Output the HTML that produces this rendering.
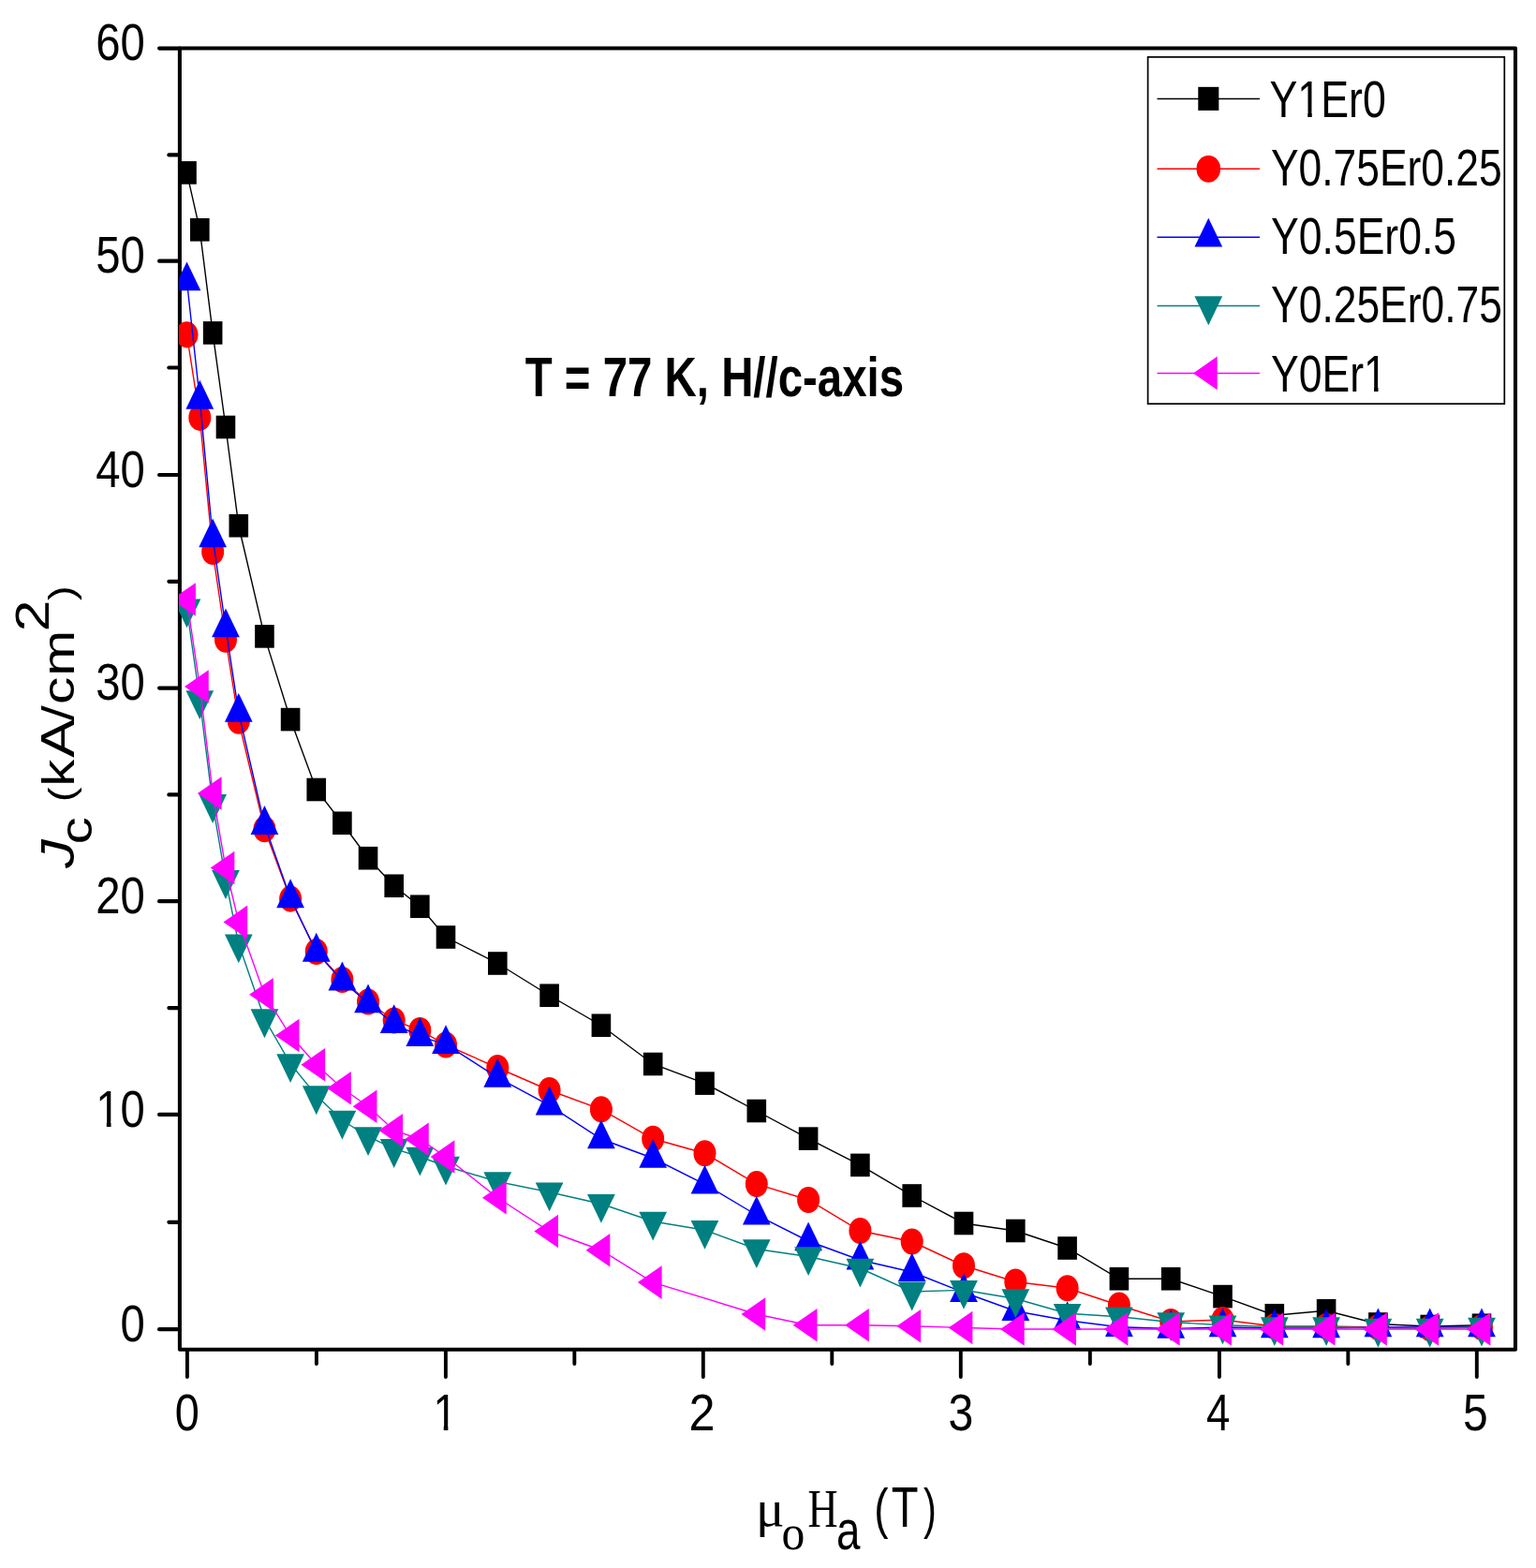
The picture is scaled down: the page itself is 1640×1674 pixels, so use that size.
<!DOCTYPE html>
<html lang="en"><head><meta charset="utf-8"><title>Jc vs applied field</title>
<style>html,body{margin:0;padding:0;background:#fff}body{width:1640px;height:1674px;overflow:hidden}svg{display:block}text{font-family:"Liberation Sans",sans-serif;fill:#000}.ser{font-family:"Liberation Serif",serif}</style>
</head><body>
<svg width="1640" height="1674" viewBox="0 0 1640 1674">
<rect width="1640" height="1674" fill="#fff"/>
<defs><clipPath id="plot"><rect x="191" y="51.5" width="1427" height="1389.3"/></clipPath><clipPath id="one"><path d="M0 -80H34.05V2H25V-9.6H0Z"/></clipPath></defs>
<g stroke="#000" fill="none">
<path d="M191.9 51.5H1618V1440.8H191.9Z" stroke-width="4.05" stroke-linejoin="round"/>
<line x1="170.1" y1="51.6" x2="191.5" y2="51.6" stroke-width="4.2" stroke-linecap="round"/>
<line x1="180.4" y1="165.4" x2="191.5" y2="165.4" stroke-width="4.2" stroke-linecap="round"/>
<line x1="170.1" y1="278.7" x2="191.5" y2="278.7" stroke-width="4.2" stroke-linecap="round"/>
<line x1="180.4" y1="392.5" x2="191.5" y2="392.5" stroke-width="4.2" stroke-linecap="round"/>
<line x1="170.1" y1="507" x2="191.5" y2="507" stroke-width="4.2" stroke-linecap="round"/>
<line x1="180.4" y1="620.8" x2="191.5" y2="620.8" stroke-width="4.2" stroke-linecap="round"/>
<line x1="170.1" y1="734.6" x2="191.5" y2="734.6" stroke-width="4.2" stroke-linecap="round"/>
<line x1="180.4" y1="848.4" x2="191.5" y2="848.4" stroke-width="4.2" stroke-linecap="round"/>
<line x1="170.1" y1="962.2" x2="191.5" y2="962.2" stroke-width="4.2" stroke-linecap="round"/>
<line x1="180.4" y1="1076.1" x2="191.5" y2="1076.1" stroke-width="4.2" stroke-linecap="round"/>
<line x1="170.1" y1="1189.9" x2="191.5" y2="1189.9" stroke-width="4.2" stroke-linecap="round"/>
<line x1="180.4" y1="1304.8" x2="191.5" y2="1304.8" stroke-width="4.2" stroke-linecap="round"/>
<line x1="170.1" y1="1419.2" x2="191.5" y2="1419.2" stroke-width="4.2" stroke-linecap="round"/>
<line x1="199.9" y1="1441.2" x2="199.9" y2="1470" stroke-width="3.9" stroke-linecap="round"/>
<line x1="475.9" y1="1441.2" x2="475.9" y2="1470" stroke-width="3.9" stroke-linecap="round"/>
<line x1="750.8" y1="1441.2" x2="750.8" y2="1470" stroke-width="3.9" stroke-linecap="round"/>
<line x1="1025.8" y1="1441.2" x2="1025.8" y2="1470" stroke-width="3.9" stroke-linecap="round"/>
<line x1="1301.9" y1="1441.2" x2="1301.9" y2="1470" stroke-width="3.9" stroke-linecap="round"/>
<line x1="1576.8" y1="1441.2" x2="1576.8" y2="1470" stroke-width="3.9" stroke-linecap="round"/>
<line x1="337.9" y1="1441.2" x2="337.9" y2="1456" stroke-width="3.9" stroke-linecap="round"/>
<line x1="613.35" y1="1441.2" x2="613.35" y2="1456" stroke-width="3.9" stroke-linecap="round"/>
<line x1="888.3" y1="1441.2" x2="888.3" y2="1456" stroke-width="3.9" stroke-linecap="round"/>
<line x1="1163.85" y1="1441.2" x2="1163.85" y2="1456" stroke-width="3.9" stroke-linecap="round"/>
<line x1="1439.35" y1="1441.2" x2="1439.35" y2="1456" stroke-width="3.9" stroke-linecap="round"/>
</g>
<g clip-path="url(#plot)">
<polyline fill="none" stroke="#000000" stroke-width="1.4" points="199.5,184.4 213.32,245.3 227.15,355.4 240.97,456 254.8,561.25 282.45,679.4 310.1,768.1 337.75,843 365.4,878.75 393.05,916.2 420.7,945.75 448.35,967.75 476,1000.5 531.3,1028.5 586.6,1062.75 641.9,1094.75 697.2,1136 752.5,1156.6 807.8,1186 863.1,1215.6 918.4,1243.9 973.7,1276.5 1029,1306 1084.3,1314 1139.6,1332.5 1194.9,1365.25 1250.2,1365.25 1305.5,1384.1 1360.8,1404.25 1416.1,1399.25 1471.4,1413.5 1526.7,1416 1582,1414.75"/>
<g fill="#000000"><rect x="189.2" y="172.1" width="20.6" height="24.6"/><rect x="203.02" y="233" width="20.6" height="24.6"/><rect x="216.85" y="343.1" width="20.6" height="24.6"/><rect x="230.67" y="443.7" width="20.6" height="24.6"/><rect x="244.5" y="548.95" width="20.6" height="24.6"/><rect x="272.15" y="667.1" width="20.6" height="24.6"/><rect x="299.8" y="755.8" width="20.6" height="24.6"/><rect x="327.45" y="830.7" width="20.6" height="24.6"/><rect x="355.1" y="866.45" width="20.6" height="24.6"/><rect x="382.75" y="903.9" width="20.6" height="24.6"/><rect x="410.4" y="933.45" width="20.6" height="24.6"/><rect x="438.05" y="955.45" width="20.6" height="24.6"/><rect x="465.7" y="988.2" width="20.6" height="24.6"/><rect x="521" y="1016.2" width="20.6" height="24.6"/><rect x="576.3" y="1050.45" width="20.6" height="24.6"/><rect x="631.6" y="1082.45" width="20.6" height="24.6"/><rect x="686.9" y="1123.7" width="20.6" height="24.6"/><rect x="742.2" y="1144.3" width="20.6" height="24.6"/><rect x="797.5" y="1173.7" width="20.6" height="24.6"/><rect x="852.8" y="1203.3" width="20.6" height="24.6"/><rect x="908.1" y="1231.6" width="20.6" height="24.6"/><rect x="963.4" y="1264.2" width="20.6" height="24.6"/><rect x="1018.7" y="1293.7" width="20.6" height="24.6"/><rect x="1074" y="1301.7" width="20.6" height="24.6"/><rect x="1129.3" y="1320.2" width="20.6" height="24.6"/><rect x="1184.6" y="1352.95" width="20.6" height="24.6"/><rect x="1239.9" y="1352.95" width="20.6" height="24.6"/><rect x="1295.2" y="1371.8" width="20.6" height="24.6"/><rect x="1350.5" y="1391.95" width="20.6" height="24.6"/><rect x="1405.8" y="1386.95" width="20.6" height="24.6"/><rect x="1461.1" y="1401.2" width="20.6" height="24.6"/><rect x="1516.4" y="1403.7" width="20.6" height="24.6"/><rect x="1571.7" y="1402.45" width="20.6" height="24.6"/></g>
<polyline fill="none" stroke="#ff0000" stroke-width="1.4" points="199.5,357.3 213.32,445.8 227.15,589 240.97,682.75 254.8,769.75 282.45,885.25 310.1,959.6 337.75,1016 365.4,1046 393.05,1069.5 420.7,1089.5 448.35,1100 476,1115.5 531.3,1140 586.6,1164 641.9,1184.4 697.2,1215.75 752.5,1231.25 807.8,1264.1 863.1,1281 918.4,1314 973.7,1325.5 1029,1351.25 1084.3,1368.5 1139.6,1375.25 1194.9,1393.5 1250.2,1411 1305.5,1409 1360.8,1416 1416.1,1416 1471.4,1417 1526.7,1418 1582,1417"/>
<g fill="#ff0000"><ellipse cx="199.5" cy="357.3" rx="12" ry="14.1"/><ellipse cx="213.32" cy="445.8" rx="12" ry="14.1"/><ellipse cx="227.15" cy="589" rx="12" ry="14.1"/><ellipse cx="240.97" cy="682.75" rx="12" ry="14.1"/><ellipse cx="254.8" cy="769.75" rx="12" ry="14.1"/><ellipse cx="282.45" cy="885.25" rx="12" ry="14.1"/><ellipse cx="310.1" cy="959.6" rx="12" ry="14.1"/><ellipse cx="337.75" cy="1016" rx="12" ry="14.1"/><ellipse cx="365.4" cy="1046" rx="12" ry="14.1"/><ellipse cx="393.05" cy="1069.5" rx="12" ry="14.1"/><ellipse cx="420.7" cy="1089.5" rx="12" ry="14.1"/><ellipse cx="448.35" cy="1100" rx="12" ry="14.1"/><ellipse cx="476" cy="1115.5" rx="12" ry="14.1"/><ellipse cx="531.3" cy="1140" rx="12" ry="14.1"/><ellipse cx="586.6" cy="1164" rx="12" ry="14.1"/><ellipse cx="641.9" cy="1184.4" rx="12" ry="14.1"/><ellipse cx="697.2" cy="1215.75" rx="12" ry="14.1"/><ellipse cx="752.5" cy="1231.25" rx="12" ry="14.1"/><ellipse cx="807.8" cy="1264.1" rx="12" ry="14.1"/><ellipse cx="863.1" cy="1281" rx="12" ry="14.1"/><ellipse cx="918.4" cy="1314" rx="12" ry="14.1"/><ellipse cx="973.7" cy="1325.5" rx="12" ry="14.1"/><ellipse cx="1029" cy="1351.25" rx="12" ry="14.1"/><ellipse cx="1084.3" cy="1368.5" rx="12" ry="14.1"/><ellipse cx="1139.6" cy="1375.25" rx="12" ry="14.1"/><ellipse cx="1194.9" cy="1393.5" rx="12" ry="14.1"/><ellipse cx="1250.2" cy="1411" rx="12" ry="14.1"/><ellipse cx="1305.5" cy="1409" rx="12" ry="14.1"/><ellipse cx="1360.8" cy="1416" rx="12" ry="14.1"/><ellipse cx="1416.1" cy="1416" rx="12" ry="14.1"/><ellipse cx="1471.4" cy="1417" rx="12" ry="14.1"/><ellipse cx="1526.7" cy="1418" rx="12" ry="14.1"/><ellipse cx="1582" cy="1417" rx="12" ry="14.1"/></g>
<polyline fill="none" stroke="#0000ff" stroke-width="1.4" points="199.5,300 213.32,426.4 227.15,574 240.97,670 254.8,760.5 282.45,880.6 310.1,958.9 337.75,1016.4 365.4,1047.2 393.05,1071 420.7,1092.8 448.35,1106.7 476,1114.8 531.3,1150.4 586.6,1180.1 641.9,1216 697.2,1236.5 752.5,1264.25 807.8,1297.25 863.1,1325 918.4,1345.25 973.7,1358 1029,1379.75 1084.3,1399.75 1139.6,1409.75 1194.9,1416.75 1250.2,1418.5 1305.5,1417 1360.8,1418 1416.1,1418 1471.4,1417 1526.7,1417 1582,1417"/>
<g fill="#0000ff"><polygon points="199.5,279.4 214.35,310.3 184.65,310.3"/><polygon points="213.32,405.8 228.17,436.7 198.47,436.7"/><polygon points="227.15,553.4 242,584.3 212.3,584.3"/><polygon points="240.97,649.4 255.82,680.3 226.12,680.3"/><polygon points="254.8,739.9 269.65,770.8 239.95,770.8"/><polygon points="282.45,860 297.3,890.9 267.6,890.9"/><polygon points="310.1,938.3 324.95,969.2 295.25,969.2"/><polygon points="337.75,995.8 352.6,1026.7 322.9,1026.7"/><polygon points="365.4,1026.6 380.25,1057.5 350.55,1057.5"/><polygon points="393.05,1050.4 407.9,1081.3 378.2,1081.3"/><polygon points="420.7,1072.2 435.55,1103.1 405.85,1103.1"/><polygon points="448.35,1086.1 463.2,1117 433.5,1117"/><polygon points="476,1094.2 490.85,1125.1 461.15,1125.1"/><polygon points="531.3,1129.8 546.15,1160.7 516.45,1160.7"/><polygon points="586.6,1159.5 601.45,1190.4 571.75,1190.4"/><polygon points="641.9,1195.4 656.75,1226.3 627.05,1226.3"/><polygon points="697.2,1215.9 712.05,1246.8 682.35,1246.8"/><polygon points="752.5,1243.65 767.35,1274.55 737.65,1274.55"/><polygon points="807.8,1276.65 822.65,1307.55 792.95,1307.55"/><polygon points="863.1,1304.4 877.95,1335.3 848.25,1335.3"/><polygon points="918.4,1324.65 933.25,1355.55 903.55,1355.55"/><polygon points="973.7,1337.4 988.55,1368.3 958.85,1368.3"/><polygon points="1029,1359.15 1043.85,1390.05 1014.15,1390.05"/><polygon points="1084.3,1379.15 1099.15,1410.05 1069.45,1410.05"/><polygon points="1139.6,1389.15 1154.45,1420.05 1124.75,1420.05"/><polygon points="1194.9,1396.15 1209.75,1427.05 1180.05,1427.05"/><polygon points="1250.2,1397.9 1265.05,1428.8 1235.35,1428.8"/><polygon points="1305.5,1396.4 1320.35,1427.3 1290.65,1427.3"/><polygon points="1360.8,1397.4 1375.65,1428.3 1345.95,1428.3"/><polygon points="1416.1,1397.4 1430.95,1428.3 1401.25,1428.3"/><polygon points="1471.4,1396.4 1486.25,1427.3 1456.55,1427.3"/><polygon points="1526.7,1396.4 1541.55,1427.3 1511.85,1427.3"/><polygon points="1582,1396.4 1596.85,1427.3 1567.15,1427.3"/></g>
<polyline fill="none" stroke="#008080" stroke-width="1.4" points="199.5,649.7 213.32,747.5 227.15,858.4 240.97,939.3 254.8,1007.7 282.45,1087.6 310.1,1135.5 337.75,1169.6 365.4,1196 393.05,1213.5 420.7,1226.3 448.35,1235 476,1245 531.3,1261.5 586.6,1272.75 641.9,1285.25 697.2,1304 752.5,1313.25 807.8,1333.5 863.1,1341.5 918.4,1354 973.7,1379 1029,1377.25 1084.3,1386.5 1139.6,1402.25 1194.9,1405.75 1250.2,1411.5 1305.5,1414.75 1360.8,1416.5 1416.1,1416.5 1471.4,1418 1526.7,1418 1582,1417"/>
<g fill="#008080"><polygon points="199.5,670.3 214.35,639.4 184.65,639.4"/><polygon points="213.32,768.1 228.17,737.2 198.47,737.2"/><polygon points="227.15,879 242,848.1 212.3,848.1"/><polygon points="240.97,959.9 255.82,929 226.12,929"/><polygon points="254.8,1028.3 269.65,997.4 239.95,997.4"/><polygon points="282.45,1108.2 297.3,1077.3 267.6,1077.3"/><polygon points="310.1,1156.1 324.95,1125.2 295.25,1125.2"/><polygon points="337.75,1190.2 352.6,1159.3 322.9,1159.3"/><polygon points="365.4,1216.6 380.25,1185.7 350.55,1185.7"/><polygon points="393.05,1234.1 407.9,1203.2 378.2,1203.2"/><polygon points="420.7,1246.9 435.55,1216 405.85,1216"/><polygon points="448.35,1255.6 463.2,1224.7 433.5,1224.7"/><polygon points="476,1265.6 490.85,1234.7 461.15,1234.7"/><polygon points="531.3,1282.1 546.15,1251.2 516.45,1251.2"/><polygon points="586.6,1293.35 601.45,1262.45 571.75,1262.45"/><polygon points="641.9,1305.85 656.75,1274.95 627.05,1274.95"/><polygon points="697.2,1324.6 712.05,1293.7 682.35,1293.7"/><polygon points="752.5,1333.85 767.35,1302.95 737.65,1302.95"/><polygon points="807.8,1354.1 822.65,1323.2 792.95,1323.2"/><polygon points="863.1,1362.1 877.95,1331.2 848.25,1331.2"/><polygon points="918.4,1374.6 933.25,1343.7 903.55,1343.7"/><polygon points="973.7,1399.6 988.55,1368.7 958.85,1368.7"/><polygon points="1029,1397.85 1043.85,1366.95 1014.15,1366.95"/><polygon points="1084.3,1407.1 1099.15,1376.2 1069.45,1376.2"/><polygon points="1139.6,1422.85 1154.45,1391.95 1124.75,1391.95"/><polygon points="1194.9,1426.35 1209.75,1395.45 1180.05,1395.45"/><polygon points="1250.2,1432.1 1265.05,1401.2 1235.35,1401.2"/><polygon points="1305.5,1435.35 1320.35,1404.45 1290.65,1404.45"/><polygon points="1360.8,1437.1 1375.65,1406.2 1345.95,1406.2"/><polygon points="1416.1,1437.1 1430.95,1406.2 1401.25,1406.2"/><polygon points="1471.4,1438.6 1486.25,1407.7 1456.55,1407.7"/><polygon points="1526.7,1438.6 1541.55,1407.7 1511.85,1407.7"/><polygon points="1582,1437.6 1596.85,1406.7 1567.15,1406.7"/></g>
<polyline fill="none" stroke="#ff00ff" stroke-width="1.4" points="199.5,640 213.32,733 227.15,847 240.97,926.5 254.8,984.4 282.45,1061.75 310.1,1105.5 337.75,1136.75 365.4,1161.75 393.05,1181.25 420.7,1206.75 448.35,1216.25 476,1235 531.3,1278.75 586.6,1314.5 641.9,1334.75 697.2,1369.1 807.8,1403 863.1,1414.75 918.4,1414.75 973.7,1415.75 1029,1417.5 1084.3,1419 1139.6,1419 1194.9,1419 1250.2,1419 1305.5,1419 1360.8,1419 1416.1,1419 1471.4,1419 1526.7,1419 1582,1419"/>
<g fill="#ff00ff"><polygon points="183.2,640 208.9,622.2 208.9,657.8"/><polygon points="197.02,733 222.72,715.2 222.72,750.8"/><polygon points="210.85,847 236.55,829.2 236.55,864.8"/><polygon points="224.67,926.5 250.38,908.7 250.38,944.3"/><polygon points="238.5,984.4 264.2,966.6 264.2,1002.2"/><polygon points="266.15,1061.75 291.85,1043.95 291.85,1079.55"/><polygon points="293.8,1105.5 319.5,1087.7 319.5,1123.3"/><polygon points="321.45,1136.75 347.15,1118.95 347.15,1154.55"/><polygon points="349.1,1161.75 374.8,1143.95 374.8,1179.55"/><polygon points="376.75,1181.25 402.45,1163.45 402.45,1199.05"/><polygon points="404.4,1206.75 430.1,1188.95 430.1,1224.55"/><polygon points="432.05,1216.25 457.75,1198.45 457.75,1234.05"/><polygon points="459.7,1235 485.4,1217.2 485.4,1252.8"/><polygon points="515,1278.75 540.7,1260.95 540.7,1296.55"/><polygon points="570.3,1314.5 596,1296.7 596,1332.3"/><polygon points="625.6,1334.75 651.3,1316.95 651.3,1352.55"/><polygon points="680.9,1369.1 706.6,1351.3 706.6,1386.9"/><polygon points="791.5,1403 817.2,1385.2 817.2,1420.8"/><polygon points="846.8,1414.75 872.5,1396.95 872.5,1432.55"/><polygon points="902.1,1414.75 927.8,1396.95 927.8,1432.55"/><polygon points="957.4,1415.75 983.1,1397.95 983.1,1433.55"/><polygon points="1012.7,1417.5 1038.4,1399.7 1038.4,1435.3"/><polygon points="1068,1419 1093.7,1401.2 1093.7,1436.8"/><polygon points="1123.3,1419 1149,1401.2 1149,1436.8"/><polygon points="1178.6,1419 1204.3,1401.2 1204.3,1436.8"/><polygon points="1233.9,1419 1259.6,1401.2 1259.6,1436.8"/><polygon points="1289.2,1419 1314.9,1401.2 1314.9,1436.8"/><polygon points="1344.5,1419 1370.2,1401.2 1370.2,1436.8"/><polygon points="1399.8,1419 1425.5,1401.2 1425.5,1436.8"/><polygon points="1455.1,1419 1480.8,1401.2 1480.8,1436.8"/><polygon points="1510.4,1419 1536.1,1401.2 1536.1,1436.8"/><polygon points="1565.7,1419 1591.4,1401.2 1591.4,1436.8"/></g>
</g>
<text font-size="100" transform="matrix(0.4725 0 0 0.5572 102.22 64.39)">60</text>
<text font-size="100" transform="matrix(0.4725 0 0 0.5572 102.22 291.49)">50</text>
<text font-size="100" transform="matrix(0.4725 0 0 0.5572 102.22 519.79)">40</text>
<text font-size="100" transform="matrix(0.4725 0 0 0.5572 102.22 747.39)">30</text>
<text font-size="100" transform="matrix(0.4725 0 0 0.5572 102.22 974.99)">20</text>
<text font-size="100" transform="matrix(0.4724 0 0 0.5572 102.18 1202.69)">10</text><rect x="104.54" y="1197.01" width="9.27" height="6.88" fill="#fff"/><rect x="118.51" y="1197.01" width="8.7" height="6.88" fill="#fff"/>
<text font-size="100" transform="matrix(0.4725 0 0 0.5572 128.45 1431.99)">0</text>
<text font-size="100" transform="matrix(0.4691 0 0 0.5579 186.72 1527.14)">0</text>
<text font-size="100" transform="matrix(0.4621 0 0 0.5579 462.39 1527.14)">1</text><rect x="464.7" y="1521.45" width="9.06" height="6.89" fill="#fff"/><rect x="478.37" y="1521.45" width="8.51" height="6.89" fill="#fff"/>
<text font-size="100" transform="matrix(0.5033 0 0 0.5579 735.38 1527.14)">2</text>
<text font-size="100" transform="matrix(0.4821 0 0 0.5579 1012.39 1527.14)">3</text>
<text font-size="100" transform="matrix(0.4554 0 0 0.5579 1287.88 1527.14)">4</text>
<text font-size="100" transform="matrix(0.4800 0 0 0.5579 1561.88 1527.14)">5</text>
<rect x="1225.6" y="60.9" width="380.7" height="370.2" fill="#fff" stroke="#000" stroke-width="1.7"/>
<line x1="1235.5" y1="105.4" x2="1345" y2="105.4" stroke="#000000" stroke-width="1.5"/>
<g fill="#000000"><rect x="1279.28" y="92.84" width="22.04" height="25.12"/></g>
<text font-size="100" transform="matrix(0.4477 0 0 0.5579 1355.39 124.74)">Y1Er0</text><rect x="1387.49" y="119.05" width="8.77" height="6.89" fill="#fff"/><rect x="1400.75" y="119.05" width="8.23" height="6.89" fill="#fff"/>
<line x1="1235.5" y1="180.3" x2="1345" y2="180.3" stroke="#ff0000" stroke-width="1.5"/>
<g fill="#ff0000"><ellipse cx="1290.3" cy="180.3" rx="12.84" ry="14.4"/></g>
<text font-size="100" transform="matrix(0.4442 0 0 0.5579 1356.9 198.24)">Y0.75Er0.25</text>
<line x1="1235.5" y1="253.3" x2="1345" y2="253.3" stroke="#0000ff" stroke-width="1.5"/>
<g fill="#0000ff"><polygon points="1290.3,232.7 1305.15,263.6 1275.45,263.6"/></g>
<text font-size="100" transform="matrix(0.4453 0 0 0.5607 1357.1 271.44)">Y0.5Er0.5</text>
<line x1="1235.5" y1="326.6" x2="1345" y2="326.6" stroke="#008080" stroke-width="1.5"/>
<g fill="#008080"><polygon points="1290.3,347.2 1305.15,316.3 1275.45,316.3"/></g>
<text font-size="100" transform="matrix(0.4439 0 0 0.5565 1357.1 344.44)">Y0.25Er0.75</text>
<line x1="1235.5" y1="398.4" x2="1345" y2="398.4" stroke="#ff00ff" stroke-width="1.5"/>
<g fill="#ff00ff"><polygon points="1274,398.4 1299.7,380.6 1299.7,416.2"/></g>
<text font-size="100" transform="matrix(0.4454 0 0 0.5607 1357.1 417.94)">Y0Er1</text><rect x="1458.33" y="412.22" width="8.72" height="6.92" fill="#fff"/><rect x="1471.52" y="412.22" width="8.19" height="6.92" fill="#fff"/>
<text font-weight="bold" font-size="100" transform="matrix(0.4742 0 0 0.5945 560.63 422.8)">T = 77 K, H//c-axis</text>
<text font-size="100" transform="matrix(0 -0.5850 0.4850 0 0 0)"><tspan font-style="italic" x="-1584.37" y="162.46" font-size="104.64">J</tspan><tspan x="-1540.72" y="202.51" font-size="99.04">c</tspan><tspan x="-1486.28" y="162.38" font-size="80.93"> (</tspan><tspan x="-1435.43" y="162.47" font-size="99.25">k</tspan><tspan x="-1382.37" y="162.47" font-size="104.67">A</tspan><tspan x="-1315.23" y="162.51" font-size="99.31">/</tspan><tspan x="-1285.55" y="162.5" font-size="100.55">c</tspan><tspan x="-1233.58" y="162.47" font-size="100.5">m</tspan><tspan x="-1152.73" y="107.01" font-size="103.17">2</tspan><tspan x="-1095.76" y="162.38" font-size="80.93">)</tspan></text>
<text font-size="100" transform="matrix(0.4550 0 0 0.5850 0 0)"><tspan class="ser" textLength="67.29" lengthAdjust="spacingAndGlyphs" x="1773.48" y="2785.43" font-size="92.43">μ</tspan><tspan class="ser" textLength="54.56" lengthAdjust="spacingAndGlyphs" x="1834.37" y="2826.6" font-size="91.88">o</tspan><tspan class="ser" x="1895.4" y="2787.01" font-size="97.61">H</tspan><tspan x="1962.49" y="2826.52" font-size="100.53">a</tspan><tspan x="2023.02" y="2787.59" font-size="101.01"> (</tspan><tspan x="2091.86" y="2786.67" font-size="103.43">T</tspan><tspan textLength="30.39" lengthAdjust="spacingAndGlyphs" x="2167.01" y="2787.59" font-size="101.01">)</tspan></text>
</svg>
</body></html>
